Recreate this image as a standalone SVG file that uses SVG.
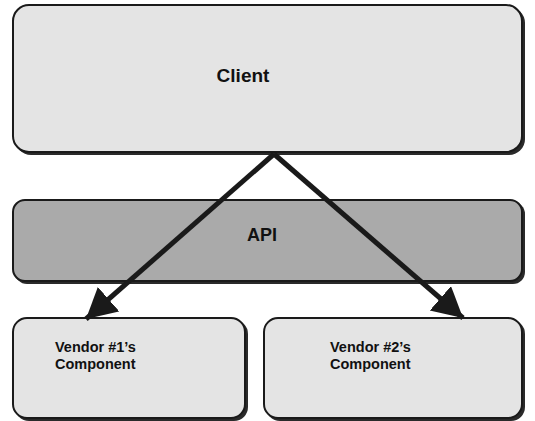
<svg xmlns="http://www.w3.org/2000/svg" width="535" height="421" viewBox="0 0 535 421">
<defs>
<style>
.box{stroke:#1a1a1a;stroke-width:2}
.shadow{fill:#2a2a2a}
.light{fill:#e4e4e4}
.dark{fill:#aaaaaa}
.t{font-family:"Liberation Sans",Arial,sans-serif;font-weight:bold;fill:#111}
.conn{stroke:#1a1a1a;stroke-width:5;fill:none}
</style>
<marker id="ah" markerWidth="7" markerHeight="7" refX="6" refY="3.25" orient="auto" markerUnits="strokeWidth">
<path d="M0,0 L6,3.25 L0,6.5 Z" fill="#1a1a1a"/>
</marker>
</defs>
<rect width="535" height="421" fill="#ffffff"/>
<g id="client">
<rect class="shadow" x="15" y="7" width="510" height="148" rx="16"/>
<rect class="box light" x="13" y="5" width="509" height="147" rx="16"/>
<text class="t" x="243" y="82" font-size="19" text-anchor="middle">Client</text>
</g>
<g id="api">
<rect class="shadow" x="15" y="202" width="510" height="82" rx="12"/>
<rect class="box dark" x="13" y="200" width="509" height="81" rx="12"/>
<text class="t" x="262" y="241" font-size="18" text-anchor="middle">API</text>
</g>
<g id="vendor1">
<rect class="shadow" x="15" y="320" width="233" height="101" rx="14"/>
<rect class="box light" x="13" y="318" width="232" height="100" rx="14"/>
<text class="t" x="55" y="352" font-size="14.5">Vendor #1’s</text>
<text class="t" x="55" y="369" font-size="14.5">Component</text>
</g>
<g id="vendor2">
<rect class="shadow" x="266" y="320" width="259" height="101" rx="14"/>
<rect class="box light" x="264" y="318" width="258" height="100" rx="14"/>
<text class="t" x="330" y="352" font-size="14.5">Vendor #2’s</text>
<text class="t" x="330" y="369" font-size="14.5">Component</text>
</g>
<g id="connectors">
<path class="conn" d="M274,154 L86,319" marker-end="url(#ah)"/>
<path class="conn" d="M274,154 L463,318" marker-end="url(#ah)"/>
</g>
</svg>
